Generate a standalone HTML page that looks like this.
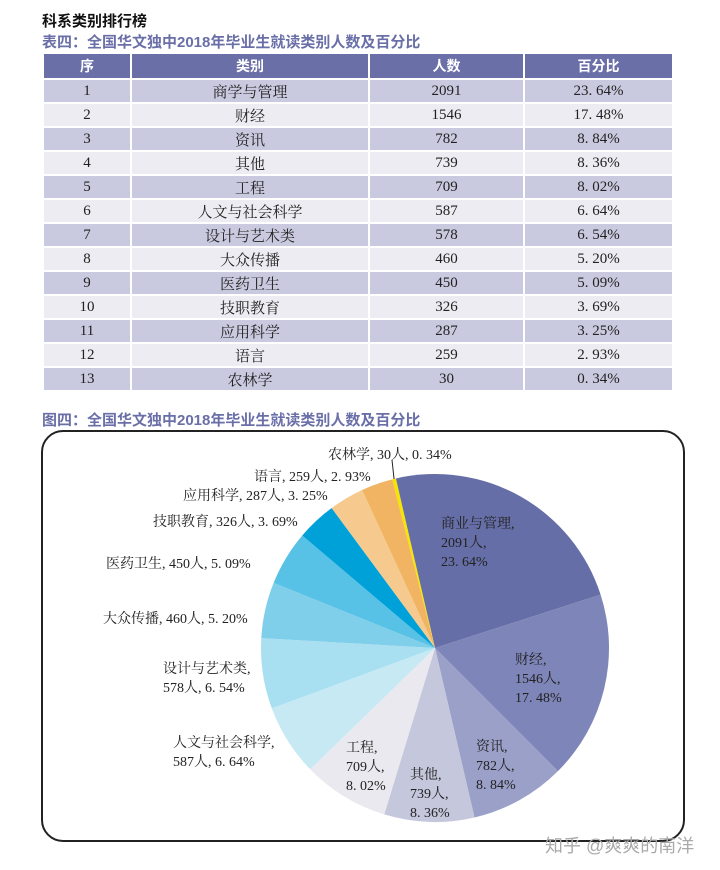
<!DOCTYPE html>
<html><head><meta charset="utf-8"><style>
body{margin:0;width:720px;height:870px;background:#fff;position:relative;font-family:"Liberation Sans","Noto Sans CJK SC",sans-serif;overflow:hidden}
.t{position:absolute;white-space:nowrap}
table{position:absolute;left:42px;top:52px;width:630px;border-collapse:collapse;table-layout:fixed}
td,th{height:22px;padding:0;text-align:center;border:2px solid #fff;font-family:"Liberation Serif","Noto Serif CJK SC",serif;font-size:15px;color:#222}
th{background:#6a6fa8;color:#fff;font-family:"Liberation Sans","Noto Sans CJK SC",sans-serif;font-weight:bold;height:24px;font-size:14px}
tr.o td{background:#c9cadf}tr.e td{background:#ececf2}
#box{position:absolute;left:41px;top:430px;width:640px;height:408px;border:2px solid #222;border-radius:22px}
svg text{font-family:"Liberation Serif","Noto Serif CJK SC",serif;font-size:14px;fill:#222}
</style></head><body>
<div class="t" style="left:42px;top:10px;font-size:15px;font-weight:bold;color:#111">科系类别排行榜</div>
<div class="t" style="left:42px;top:31px;font-size:15px;font-weight:bold;color:#6a6fa8">表四：全国华文独中2018年毕业生就读类别人数及百分比</div>
<table>
<colgroup><col style="width:88px"><col style="width:238px"><col style="width:155px"><col style="width:149px"></colgroup>
<thead><tr><th>序</th><th>类别</th><th>人数</th><th>百分比</th></tr></thead>
<tbody id="tb"></tbody></table>
<div class="t" style="left:42px;top:409px;font-size:15px;font-weight:bold;color:#6a6fa8">图四：全国华文独中2018年毕业生就读类别人数及百分比</div>
<div id="box"></div>
<svg id="pie" width="720" height="870" style="position:absolute;left:0;top:0"></svg>
<div class="t" style="left:545px;top:832px;font-size:18px;color:#aaa">知乎 @爽爽的南洋</div>
<script>
const categories=["商学与管理","财经","资讯","其他","工程","人文与社会科学","设计与艺术类","大众传播","医药卫生","技职教育","应用科学","语言","农林学"];
const counts=[2091,1546,782,739,709,587,578,460,450,326,287,259,30];
const percents=[23.64,17.48,8.84,8.36,8.02,6.64,6.54,5.20,5.09,3.69,3.25,2.93,0.34];
const pieNames=["商业与管理","财经","资讯","其他","工程","人文与社会科学","设计与艺术类","大众传播","医药卫生","技职教育","应用科学","语言","农林学"];
const colors=["#656ea6","#7e85b8","#9ba0c9","#c5c7dd","#e9e9ef","#c6e9f3","#a9e0f1","#80cfea","#57c1e6","#00a1d9","#f6ca8e","#f1b462","#f7e400"];
const tb=document.getElementById('tb');
categories.forEach((c,i)=>{
 const tr=document.createElement('tr');
 tr.className=i%2?'e':'o';
 
 
 tr.innerHTML=`<td>${i+1}</td><td>${c}</td><td>${counts[i]}</td><td>${percents[i].toFixed(2).replace('.','. ')}%</td>`;
 tb.appendChild(tr);
});
const svg=document.getElementById('pie'),NS='http://www.w3.org/2000/svg';
const cx=435,cy=648,r=174,start=-13;
const total=counts.reduce((a,b)=>a+b,0);
function pt(deg,rr){const a=(deg-90)*Math.PI/180;return [cx+rr*Math.cos(a),cy+rr*Math.sin(a)];}
let ang=start;const mids=[];
counts.forEach((v,i)=>{
 const sw=v/total*360,a0=ang,a1=ang+sw;ang=a1;mids.push((a0+a1)/2);
 const p0=pt(a0,r),p1=pt(a1,r);
 const p=document.createElementNS(NS,'path');
 p.setAttribute('d',`M${cx},${cy}L${p0[0]},${p0[1]}A${r},${r} 0 ${sw>180?1:0} 1 ${p1[0]},${p1[1]}Z`);
 p.setAttribute('fill',colors[i]);
 
 
 svg.appendChild(p);
});
const lp=pt(mids[12],r),l=document.createElementNS(NS,'line');
l.setAttribute('x1',lp[0]);l.setAttribute('y1',lp[1]);l.setAttribute('x2',392);l.setAttribute('y2',460);l.setAttribute('stroke','#222');


svg.appendChild(l);
const pctStr=i=>percents[i].toFixed(2).replace('.','. ')+'%';
const labelPos=[[441,528,3],[515,664,3],[476,751,3],[410,779,3],[346,752,3],[173,747,2],[163,673,2],[103,623,1],[106,568,1],[153,526,1],[183,500,1],[254,481,1],[328,459,1]];
categories.forEach((c,i)=>{
 const [x,y,m]=labelPos[i];const n=pieNames[i];
 let lines;
 if(m===3)lines=[n+',',counts[i]+'人,',pctStr(i)];
 else if(m===2)lines=[n+',',counts[i]+'人, '+pctStr(i)];
 else lines=[n+', '+counts[i]+'人, '+pctStr(i)];
 lines.forEach((s,k)=>{
  const t=document.createElementNS(NS,'text');
  t.setAttribute('x',x);t.setAttribute('y',y+k*19);t.textContent=s;
  
  
  svg.appendChild(t);
 });
});
</script>
</body></html>
